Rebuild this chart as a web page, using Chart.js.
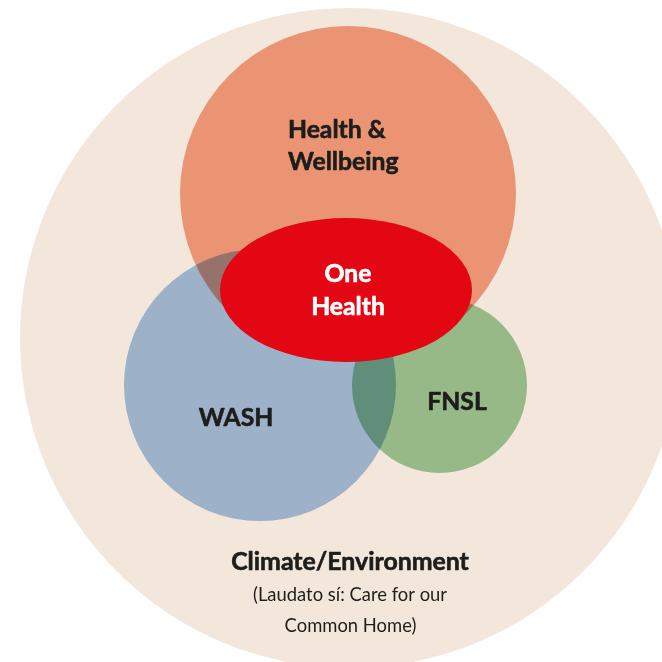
<!DOCTYPE html>
<html><head><meta charset="utf-8">
<script src="https://cdn.jsdelivr.net/npm/chart.js@4/dist/chart.umd.min.js"></script>
<style>html,body{margin:0;padding:0;background:#fff;}#wrap{width:662px;height:662px;position:relative;}</style>
</head><body><div id="wrap"><canvas id="c"></canvas></div>
<script>
// ---- data (diagram units) ----
const circleNames = ['Climate/Environment', 'Health & Wellbeing', 'WASH', 'FNSL'];
const circleX = [350, 348, 260, 439.5];
const circleY = [338, 194, 385, 385.5];
const circleR = [330, 168, 136, 87.5];
const coreName = ['One Health'];
const coreX = [346];
const coreY = [290];
const coreRX = [126];
const coreRY = [72];

// ---- labels ----
const labelText = ['Health &', 'Wellbeing', 'One', 'Health', 'WASH', 'FNSL', 'Climate/Environment', '(Laudato sí: Care for our', 'Common Home)'];
const labelX = [288, 288, 348, 348, 236, 457, 350, 350, 350.5];
const labelY = [137.5, 170, 282, 314.5, 426, 409.5, 569.5, 601, 631.5];

// ---- styles ----
const circleColors = ['#f3e7dc', '#f6a486', '#a5c4e9', '#9dcc9c'];
const circleBlend = ['source-over', 'multiply', 'multiply', 'multiply'];
const coreColor = '#e30613';
const labelAlign = ['left', 'left', 'center', 'center', 'center', 'center', 'center', 'center', 'center'];
const B = 'bold 24px Lato';
const labelFont = [B, B, B, B, B, B, B, '20px Lato', '20px Lato'];
const labelStretch = [1.03, 1.03, 1.03, 1.03, 1.03, 1.03, 1.035, 0.92, 0.92];
const labelStroke = [0.6, 0.6, 0.6, 0.6, 0.6, 0.6, 0.6, 0, 0];
const labelColor = ['#1d1d1b', '#1d1d1b', '#ffffff', '#ffffff', '#1d1d1b', '#1d1d1b', '#1d1d1b', '#1d1d1b', '#1d1d1b'];

const datasets = circleNames.map((n, i) => ({
  label: n,
  data: [{x: circleX[i], y: circleY[i], r: circleR[i]}],
  backgroundColor: circleColors[i],
  borderWidth: 0,
  borderColor: 'rgba(0,0,0,0)',
  hoverRadius: 0,
  clip: 0,
  order: circleNames.length - i
}));

const blendPlugin = {
  id: 'blend',
  beforeDatasetDraw(chart, args) { chart.ctx.save(); chart.ctx.globalCompositeOperation = circleBlend[args.index]; },
  afterDatasetDraw(chart) { chart.ctx.restore(); }
};

const corePlugin = {
  id: 'core',
  afterDatasetsDraw(chart) {
    const ctx = chart.ctx, xs = chart.scales.x, ys = chart.scales.y;
    for (let i = 0; i < coreX.length; i++) {
      const cx = xs.getPixelForValue(coreX[i]);
      const cy = ys.getPixelForValue(coreY[i]);
      const rx = Math.abs(xs.getPixelForValue(coreX[i] + coreRX[i]) - cx);
      const ry = Math.abs(ys.getPixelForValue(coreY[i] + coreRY[i]) - cy);
      ctx.save();
      ctx.fillStyle = coreColor;
      ctx.beginPath();
      ctx.ellipse(cx, cy, rx, ry, 0, 0, Math.PI * 2);
      ctx.fill();
      ctx.restore();
    }
  }
};

const labelPlugin = {
  id: 'labels',
  afterDraw(chart) {
    const ctx = chart.ctx, xs = chart.scales.x, ys = chart.scales.y;
    labelText.forEach((t, i) => {
      ctx.save();
      ctx.textBaseline = 'alphabetic';
      ctx.font = labelFont[i];
      ctx.fillStyle = labelColor[i];
      ctx.strokeStyle = labelColor[i];
      ctx.textAlign = labelAlign[i];
      ctx.translate(xs.getPixelForValue(labelX[i]), ys.getPixelForValue(labelY[i]));
      ctx.scale(labelStretch[i], 1);
      ctx.fillText(t, 0, 0);
      if (labelStroke[i] > 0) { ctx.lineWidth = labelStroke[i]; ctx.lineJoin = 'round'; ctx.strokeText(t, 0, 0); }
      ctx.restore();
    });
  }
};

new Chart(document.getElementById('c'), {
  type: 'bubble',
  data: { datasets },
  options: {
    responsive: true,
    maintainAspectRatio: false,
    animation: false,
    events: [],
    layout: { padding: 0, autoPadding: false },
    plugins: { legend: { display: false }, tooltip: { enabled: false } },
    scales: {
      x: { type: 'linear', min: 0, max: 662, display: false },
      y: { type: 'linear', min: 0, max: 662, reverse: true, display: false }
    }
  },
  plugins: [blendPlugin, corePlugin, labelPlugin]
});
</script>
</body></html>
